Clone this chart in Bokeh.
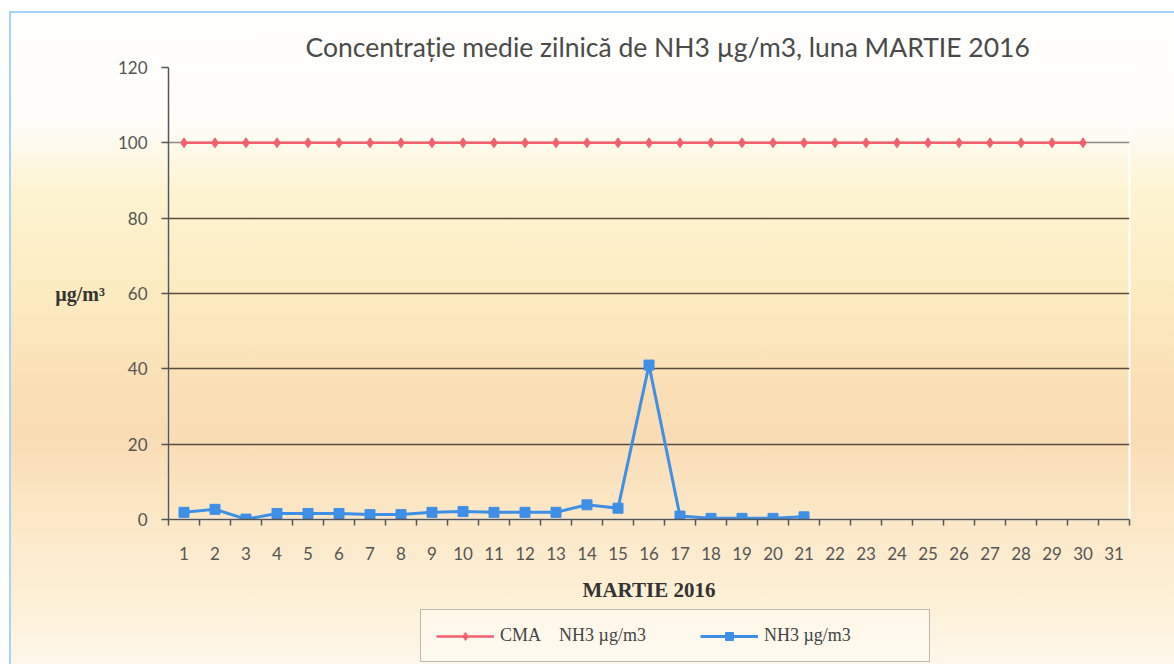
from bokeh.plotting import figure
from bokeh.layouts import column
from bokeh.models import FixedTicker, Range1d, Legend, LegendItem, Title, Grid, ColumnDataSource
from bokeh.embed import file_html
from bokeh.resources import INLINE

days = list(range(1, 32))
day_labels = [str(d) for d in days]
cma_days = list(range(1, 31))
cma_values = [100, 100, 100, 100, 100, 100, 100, 100, 100, 100,
              100, 100, 100, 100, 100, 100, 100, 100, 100, 100,
              100, 100, 100, 100, 100, 100, 100, 100, 100, 100]
nh3_days = list(range(1, 22))
nh3_values = [1.9, 2.7, 0.1, 1.6, 1.6, 1.6, 1.3, 1.3, 1.9, 2.1,
              1.9, 1.9, 1.9, 3.9, 3.0, 41.0, 0.9, 0.3, 0.3, 0.3, 0.7]
y_ticks = [0, 20, 40, 60, 80, 100, 120]
grid_ticks = [20, 40, 60, 80]
limit_grid_ticks = [100]
legend_labels = ["CMA\u00a0\u00a0\u00a0 NH3\u00a0\u00b5g/m3", "NH3\u00a0\u00b5g/m3"]

title_text = "Concentra\u021bie medie zilnic\u0103 de NH3 \u00b5g/m3, luna MARTIE 2016"

red = "#f2606f"
blue = "#3f8fe6"
frame_blue = "#a6d4f5"

cma_src = ColumnDataSource(dict(x=cma_days, y=cma_values))
nh3_src = ColumnDataSource(dict(x=nh3_days, y=nh3_values))

W, H1, H2 = 1174, 606, 58


def bg_styles(main_gradient, top_line):
    if top_line:
        imgs = [f"linear-gradient({frame_blue},{frame_blue})", f"linear-gradient({frame_blue},{frame_blue})",
                "linear-gradient(#ffffff,#ffffff)", "linear-gradient(#ffffff,#ffffff)"]
        pos = ["9px 11px", "9px 11px", "0 0", "0 0"]
        size = ["2px 100%", "100% 2px", "9px 100%", "100% 11px"]
    else:
        imgs = [f"linear-gradient({frame_blue},{frame_blue})", "linear-gradient(#ffffff,#ffffff)"]
        pos = ["9px 0", "0 0"]
        size = ["2px 100%", "9px 100%"]
    imgs.append(main_gradient)
    pos.append("0 0")
    size.append("100% 100%")
    return {
        "background-image": ", ".join(imgs),
        "background-position": ", ".join(pos),
        "background-size": ", ".join(size),
        "background-repeat": "no-repeat",
    }


p = figure(width=W, height=H1, output_backend="svg", toolbar_location=None,
           x_range=Range1d(0.5, 31.5), y_range=Range1d(0, 120),
           min_border_left=168, min_border_right=W - 1129, min_border_top=67,
           min_border_bottom=H1 - 519)
p.title = Title(text=title_text, align="left", offset=137,
                text_font="Lato", text_font_size="26.5px", text_font_style="normal",
                text_color="#4a4a4a")

p.border_fill_color = None
p.background_fill_color = None
p.outline_line_color = "white"
p.outline_line_width = 2
p.styles = bg_styles(
    "linear-gradient(to bottom, #ffffff 0px, #fefdf8 125px, #fdf4d2 190px, "
    "#fcecc2 285px, #fadfb6 385px, #f9dcb4 435px, #fbe6c4 505px, #fdf1d8 606px)",
    True)

# axes
xa = p.xaxis[0]
xa.ticker = FixedTicker(ticks=days, minor_ticks=[d - 0.5 for d in days] + [31.5])
xa.major_label_overrides = {d: s for d, s in zip(days, day_labels)}
xa.major_tick_out = 0
xa.major_tick_in = 0
xa.minor_tick_out = 6
xa.minor_tick_in = 0
xa.minor_tick_line_color = "#555555"
xa.minor_tick_line_width = 1.5
xa.axis_line_color = "#555555"
xa.axis_line_width = 1.5
xa.major_label_standoff = 21
xa.major_label_text_font = "Lato"
xa.major_label_text_font_size = "17px"
xa.major_label_text_color = "#555555"
xa.axis_label = "MARTIE 2016"
xa.axis_label_text_font = "Liberation Serif"
xa.axis_label_text_font_style = "bold"
xa.axis_label_text_font_size = "21px"
xa.axis_label_text_color = "#333333"
xa.axis_label_standoff = 15

ya = p.yaxis[0]
ya.ticker = FixedTicker(ticks=y_ticks)
ya.minor_tick_line_color = None
ya.major_tick_out = 7
ya.major_tick_in = 0
ya.major_tick_line_color = "#555555"
ya.major_tick_line_width = 1.5
ya.axis_line_color = "#555555"
ya.axis_line_width = 1.5
ya.major_label_standoff = 14
ya.major_label_text_font = "Lato"
ya.major_label_text_font_size = "17px"
ya.major_label_text_color = "#555555"
ya.axis_label = "\u00b5g/m\u00b3"
ya.axis_label_orientation = "horizontal"
ya.axis_label_text_font = "Liberation Serif"
ya.axis_label_text_font_style = "bold"
ya.axis_label_text_font_size = "20px"
ya.axis_label_text_color = "#333333"
ya.axis_label_standoff = 10

p.xgrid.grid_line_color = None
p.ygrid.ticker = FixedTicker(ticks=grid_ticks)
p.ygrid.grid_line_color = "#5a4b40"
p.ygrid.grid_line_width = 1.5
p.add_layout(Grid(dimension=1, ticker=FixedTicker(ticks=limit_grid_ticks),
                  grid_line_color="#8a8a8a", grid_line_width=1.5))

# series
p.line("x", "y", source=cma_src, line_color=red, line_width=2.5)
p.scatter("x", "y", source=cma_src, marker="diamond", size=10, fill_color=red, line_color=red)
p.line("x", "y", source=nh3_src, line_color=blue, line_width=3)
p.scatter("x", "y", source=nh3_src, marker="square", size=10, fill_color=blue, line_color=blue)

# legend strip (own figure so the box can sit below the axis title)
q = figure(width=W, height=H2, output_backend="svg", toolbar_location=None,
           x_range=Range1d(0.5, 31.5), y_range=Range1d(1000, 1001),
           x_axis_type=None, y_axis_type=None,
           min_border_left=0, min_border_right=0, min_border_top=0, min_border_bottom=0)
q.grid.visible = False
q.border_fill_color = None
q.background_fill_color = None
q.outline_line_color = None
q.styles = bg_styles("linear-gradient(to bottom, #fdf1d8 0px, #fef7ea 58px)", False)

lr1 = q.line("x", "y", source=cma_src, line_color=red, line_width=2.5)
lr2 = q.scatter("x", "y", source=cma_src, marker="diamond", size=10, fill_color=red, line_color=red)
lb1 = q.line("x", "y", source=nh3_src, line_color=blue, line_width=3)
lb2 = q.scatter("x", "y", source=nh3_src, marker="square", size=10, fill_color=blue, line_color=blue)

legend = Legend(items=[
    LegendItem(label=legend_labels[0], renderers=[lr1, lr2]),
    LegendItem(label=legend_labels[1], renderers=[lb1, lb2]),
], orientation="horizontal", location=(252, 2))
legend.label_text_font = "Liberation Serif"
legend.label_text_font_size = "18px"
legend.label_text_color = "#444444"
legend.glyph_width = 58
legend.glyph_height = 20
legend.label_standoff = 6
legend.label_width = 150
legend.spacing = 50
legend.padding = 15
legend.margin = 0
legend.border_line_color = "#777777"
legend.border_line_width = 1.5
legend.background_fill_color = "#fffdf8"
legend.background_fill_alpha = 0.5
q.add_layout(legend, "center")

layout = column(p, q, spacing=0)
open("out.html", "w").write(file_html(layout, INLINE))
